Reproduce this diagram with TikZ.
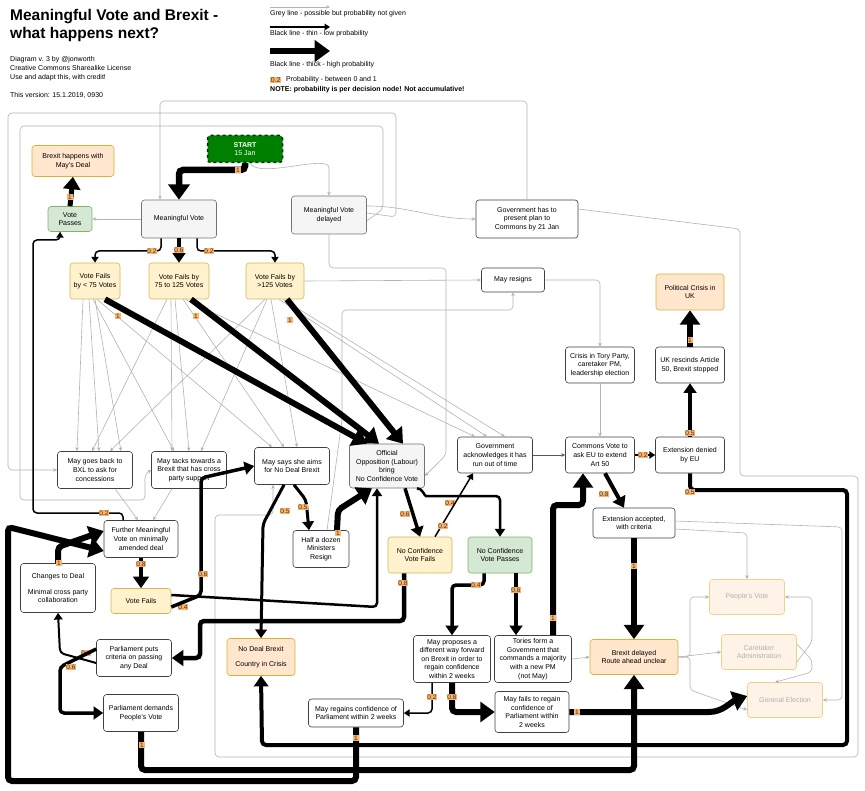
\documentclass[tikz,border=0pt]{standalone}
\usepackage{fontspec}
\setmainfont{Liberation Sans}
\usetikzlibrary{arrows.meta}
\definecolor{ofill}{HTML}{FFE6CC}\definecolor{odraw}{HTML}{D79B00}
\definecolor{yfill}{HTML}{FFF2CC}\definecolor{ydraw}{HTML}{D6B656}
\definecolor{gfill}{HTML}{D5E8D4}\definecolor{gdraw}{HTML}{82B366}
\definecolor{sfill}{HTML}{F5F5F5}\definecolor{pfill}{HTML}{FFB366}
\begin{document}
\begin{tikzpicture}[x=1pt,y=-1pt,
  box/.style={draw=black!75, rounded corners=3, fill=white, align=center, font=\fontsize{7}{8.6}\selectfont, inner sep=1pt, line width=0.6},
  org/.style={box, fill=ofill, draw=odraw!80},
  yel/.style={box, fill=yfill, draw=ydraw},
  grn/.style={box, fill=gfill, draw=gdraw},
  gry/.style={box, fill=sfill, draw=black!55},
  fad/.style={box, fill=ofill!50, draw=odraw!45, text=black!30},
  arr/.style={draw=black, line width=#1, rounded corners=4, -{Triangle[length=3pt 1.9, width=3pt 2.8]}},
  gr/.style={draw=black!30, line width=0.6, rounded corners=4, -{Stealth[length=4pt,width=3.5pt]}},
  prob/.style={fill=pfill, font=\fontsize{6.5}{7}\selectfont, inner sep=0.7pt, text=black!80},
  txt/.style={font=\fontsize{7}{8.6}\selectfont, anchor=west, inner sep=0}]
\useasboundingbox (0,0) rectangle (865,791);
% header
\node[anchor=north west, align=left, font=\bfseries\fontsize{15.5}{18}\selectfont, inner sep=0] (title) at (10,9) {Meaningful Vote and Brexit -\\what happens next?};
\node[anchor=north west, align=left, font=\fontsize{7}{9.2}\selectfont, inner sep=0] (credit) at (10,56) {Diagram v. 3 by @jonworth\\Creative Commons Sharealike License\\Use and adapt this, with credit!};
\node[txt] (version) at (10,95) {This version: 15.1.2019, 0930};
% legend
\coordinate (l1a) at (270,7); \coordinate (l1b) at (330,7);
\coordinate (l2a) at (270,27); \coordinate (l2b) at (330,27);
\coordinate (l3a) at (270,51); \coordinate (l3b) at (330,51);
\draw[gr] (l1a) -- (l1b);
\draw[arr=1.3] (l2a) -- (l2b);
\draw[arr=6.5] (l3a) -- (l3b);
\node[txt] (lt1) at (270,14) {Grey line - possible but probability not given};
\node[txt] (lt2) at (270,34) {Black line - thin - low probability};
\node[txt] (lt3) at (270,65) {Black line - thick - high probability};
\node[prob, anchor=west, font=\fontsize{7}{7}\selectfont] (lp) at (270,80) {0.2};
\node[txt] (lt4) at (286,80) {Probability - between 0 and 1};
\node[txt, font=\bfseries\fontsize{7}{8}\selectfont] (lt5) at (270,90) {NOTE: probability is per decision node! Not accumulative!};

% nodes
\node[box, fill=green!50!black, draw=green!20!black, dashed, line width=1.5, text=white, minimum width=75, minimum height=27] (start) at (245,149) {\textbf{START}\\15 Jan};
\node[org, minimum width=82, minimum height=31] (bhd) at (73,161) {Brexit happens with\\May's Deal};
\node[grn, minimum width=44, minimum height=25] (vp) at (70,219) {Vote\\Passes};
\node[gry, minimum width=75, minimum height=38] (mv) at (179,219) {Meaningful Vote};
\node[gry, minimum width=75, minimum height=38] (mvd) at (329,215) {Meaningful Vote\\delayed};
\node[box, minimum width=102, minimum height=38] (gov) at (527,219) {Government has to\\present plan to\\Commons by 21 Jan};
\node[yel, minimum width=50, minimum height=36] (f75) at (95,281) {Vote Fails\\by < 75 Votes};
\node[yel, minimum width=60, minimum height=36] (f125) at (179,281) {Vote Fails by\\75 to 125 Votes};
\node[yel, minimum width=58, minimum height=36] (fg) at (275,281) {Vote Fails by\\>125 Votes};
\node[box, minimum width=63, minimum height=24] (mr) at (513,280) {May resigns};
\node[org, minimum width=68, minimum height=36] (pc) at (690,292) {Political Crisis in\\UK};
\node[box, minimum width=69, minimum height=36] (ct) at (600,365) {Crisis in Tory Party,\\caretaker PM,\\leadership election};
\node[box, minimum width=69, minimum height=36] (uk) at (690,365) {UK rescinds Article\\50, Brexit stopped};
\node[box, minimum width=75, minimum height=37] (bxl) at (95,470) {May goes back to\\BXL to ask for\\concessions};
\node[box, minimum width=75, minimum height=37] (tack) at (189,470) {May tacks towards a\\Brexit that has cross\\party support};
\node[box, minimum width=75, minimum height=37] (nd) at (292,466) {May says she aims\\for No Deal Brexit};
\node[gry, minimum width=75, minimum height=44] (oo) at (387,466) {Official\\Opposition (Labour)\\bring\\No Confidence Vote};
\node[box, minimum width=75, minimum height=36] (ga) at (495,455) {Government\\acknowledges it has\\run out of time};
\node[box, minimum width=69, minimum height=36] (cv) at (600,455) {Commons Vote to\\ask EU to extend\\Art 50};
\node[box, minimum width=69, minimum height=36] (ed) at (690,455) {Extension denied\\by EU};
\node[box, minimum width=74, minimum height=37] (fmv) at (141,539) {Further Meaningful\\Vote on minimally\\amended deal};
\node[box, minimum width=56, minimum height=37] (hd) at (321,549) {Half a dozen\\Ministers\\Resign};
\node[yel, minimum width=64, minimum height=36] (ncf) at (420,555) {No Confidence\\Vote Fails};
\node[grn, minimum width=64, minimum height=36] (ncp) at (500,555) {No Confidence\\Vote Passes};
\node[box, minimum width=82, minimum height=30] (ea) at (634,523) {Extension accepted,\\with criteria};
\node[box, minimum width=75, minimum height=49] (cd) at (58,588) {Changes to Deal\\[7pt]Minimal cross party\\collaboration};
\node[yel, minimum width=60, minimum height=25] (vf) at (141,601) {Vote Fails};
\node[box, minimum width=75, minimum height=37] (pcr) at (134,658) {Parliament puts\\criteria on passing\\any Deal};
\node[org, minimum width=68, minimum height=37] (ndb) at (261,657) {No Deal Brexit\\[7pt]Country in Crisis};
\node[box, minimum width=77, minimum height=47] (mp) at (452,659) {May proposes a\\different way forward\\on Brexit in order to\\regain confidence\\within 2 weeks};
\node[box, minimum width=77, minimum height=47] (tf) at (533,659) {Tories form a\\Government that\\commands a majority\\with a new PM\\(not May)};
\node[org, minimum width=88, minimum height=35] (bd) at (634,657) {Brexit delayed\\Route ahead unclear};
\node[fad, minimum width=75, minimum height=35] (pv) at (747,597) {People's Vote};
\node[fad, minimum width=75, minimum height=35] (ca) at (759,652) {Caretaker\\Administration};
\node[fad, minimum width=75, minimum height=35] (ge) at (785,700) {General Election};
\node[box, minimum width=75, minimum height=37] (pd) at (141,713) {Parliament demands\\People's Vote};
\node[box, minimum width=95, minimum height=28] (mrc) at (356,713) {May regains confidence of\\Parliament within 2 weeks};
\node[box, minimum width=74, minimum height=41] (mf) at (532,712) {May fails to regain\\confidence of\\Parliament within\\2 weeks};

% grey connectors
\draw[gr] ([xshift=5]start.south) to[out=-60,in=90,looseness=0.6] (329,172) -- (mvd.north);
\draw[gr] (mv.west) -- (vp.east);
\draw[gr] ([yshift=-6]mvd.east) -- (383,209) -- (383,126) -- (20,126) -- (20,500) -- (145,500) -- (145,474) -- (tack.west);
\draw[gr] ([yshift=2]mvd.east) -- (396,217) -- (396,113) -- (8,113) -- (8,470) -- (bxl.west);
\draw[gr] ([yshift=9]mvd.east) to[out=0,in=180] (gov.west);
\draw[gr] (mvd.south) -- (329,268) -- (446,268) -- (446,455) -- ([yshift=-10]oo.east);
\draw[gr] (gov.north) -- (527,101) -- (160,101) -- ([xshift=-19]mv.north);
\draw[gr] ([yshift=10]gov.east) -- (740,229) -- (740,476) -- (858,476) -- (858,757) -- (215,757) -- (215,515) -- (273,515) -- ([xshift=-19]nd.south);
\draw[gr] (fg.east) -- (mr.west);
\draw[gr] ([xshift=6]hd.north) -- (342,420) -- (342,310) -- (513,310) -- (mr.south);
\draw[gr] (mr.east) -- (600,280) -- (ct.north);
\draw[gr] (ct.south) -- (cv.north);
\draw[draw=black!65, line width=0.7, -{Stealth[length=4pt,width=3.5pt]}] (ga.east) -- (cv.west);
\foreach \s/\d in {-12/-18,-6/4,0/26} {
  \draw[gr] ([xshift=\s]f75.south) -- ([xshift=\d]bxl.north);}
\draw[gr] ([xshift=-2]f75.south) -- ([xshift=-15]tack.north);
\draw[gr] ([xshift=2]f75.south) -- ([xshift=-20]nd.north);
\draw[gr] ([xshift=-8]f125.south) -- ([xshift=-17]tack.north);
\draw[gr] ([xshift=-12]f125.south) -- ([xshift=-3]bxl.north);
\draw[gr] ([xshift=-4]f125.south) -- ([xshift=0]tack.north);
\draw[gr] ([xshift=4]f125.south) -- ([xshift=-8]nd.north);
\draw[gr] ([xshift=6]f125.south) -- ([xshift=-20]ga.north);
\draw[gr] ([xshift=-10]fg.south) -- ([xshift=15]bxl.north);
\draw[gr] ([xshift=-8]fg.south) -- ([xshift=12]tack.north);
\draw[gr] ([xshift=-4]fg.south) -- ([xshift=5]nd.north);
\draw[gr] ([xshift=4]fg.south) -- ([xshift=-8]ga.north);
\draw[gr] ([xshift=8]fg.south) -- ([xshift=10]ga.north);
\draw[gr] ([xshift=20]bxl.south) -- ([xshift=-3]fmv.north);
\draw[gr] ([xshift=-17]tack.south) -- ([xshift=12]fmv.north);
\draw[gr] (tf.east) -- (bd.west);
\draw[gr] ([yshift=-6]ea.east) -- (747,533) -- (pv.north);
\draw[gr] ([yshift=2]ea.east) -- (842,527) -- (842,700) -- (ge.east);
\draw[gr] (bd.east) -- (690,657) -- (690,597) -- (pv.west);
\draw[gr] (bd.east) -- (ca.west);
\draw[gr] (bd.east) -- (690,657) -- (690,690) -- ([yshift=-10]ge.west);
\draw[gr] ([yshift=-10]ca.east) -- (812,642) -- (812,597) -- (pv.east);
\draw[gr] ([yshift=8]ca.east) -- (812,660) -- (812,672) -- ([xshift=-10]ge.north);

% black connectors
\draw[arr=6.5] (start.south) -- (245,170) -- (179,170) -- (mv.north);
\node[prob] (p1) at (238,170) {1};
\draw[arr=5] (vp.north) -- (bhd.south);
\node[prob] (p2) at (70,197) {1};
\draw[arr=1.5] ([xshift=-18]mv.south) -- (161,251) -- (95,251) -- (f75.north);
\node[prob] (p3) at (152,251) {0.2};
\draw[arr=3.5] (mv.south) -- (f125.north);
\node[prob] (p4) at (179,250) {0.6};
\draw[arr=1.5] ([xshift=18]mv.south) -- (197,251) -- (275,251) -- (fg.north);
\node[prob] (p5) at (209,251) {0.2};
\draw[arr=6] ([xshift=10]f75.south) -- ([xshift=-20]oo.north);
\node[prob] (p6) at (118,316) {1};
\draw[arr=6] ([xshift=12]f125.south) -- ([xshift=-8]oo.north);
\node[prob] (p7) at (196,316) {1};
\draw[arr=6] ([xshift=12]fg.south) -- ([xshift=16]oo.north);
\node[prob] (p8) at (290,320) {1};
\draw[arr=3.5] ([xshift=18]oo.south) -- (ncf.north);
\node[prob] (p9) at (405,514) {0.6};
\draw[arr=2.5] ([xshift=30]oo.south) to[out=0,in=180] (430,496) -- (500,496) -- (ncp.north);
\node[prob] (p10) at (450,503) {0.4};
\draw[arr=1.5] ([xshift=15]ncf.north) -- ([xshift=-22]ga.south);
\node[prob] (p11) at (443,526) {0.2};
\draw[arr=4.5] ([xshift=-16]ncf.south) -- (404,621) -- (200,621) -- (200,658) -- (pcr.east);
\node[prob] (p12) at (403,583) {0.8};
\draw[arr=2.5] ([yshift=6]vf.east) -- (377,607) -- ([xshift=-10]oo.south);
\node[prob] (p13) at (183,607) {0.4};
\draw[arr=3.5] ([yshift=-6]vf.east) -- (201,595) -- (201,478) -- (nd.west);
\node[prob] (p14) at (203,574) {0.6};
\draw[arr=3] ([xshift=-8]nd.south) -- (263,524) -- (ndb.north);
\node[prob] (p15) at (285,511) {0.5};
\draw[arr=3] ([xshift=2]nd.south) -- (306,500) -- ([xshift=-12]hd.north);
\node[prob] (p16) at (303,507) {0.5};
\draw[arr=6] ([xshift=16]hd.north) -- (338,510) -- ([xshift=-15]oo.south);
\node[prob] (p17) at (338,533) {1};
\draw[arr=4.5] (fmv.south) -- (vf.north);
\node[prob] (p18) at (141,564) {0.8};
\draw[arr=1.5] ([xshift=-18]fmv.north) -- (123,513) -- (33,513) -- (33,240) -- (60,240) -- ([xshift=-10]vp.south);
\node[prob] (p19) at (104,513) {0.2};
\draw[arr=6] (cd.north) -- (58,547) -- ([yshift=8]fmv.west);
\node[prob] (p20) at (59,563) {1};
\draw[arr=2] ([yshift=-5]pcr.west) -- (60,653) -- (cd.south);
\node[prob] (p21) at (86,653) {0.4};
\draw[arr=3.5] ([yshift=9]pcr.west) -- (60,667) -- (60,713) -- (pd.west);
\node[prob] (p22) at (71,667) {0.6};
\draw[arr=6] (pd.south) -- (141,770) -- (634,770) -- (bd.south);
\node[prob] (p23) at (142,745) {1};
\draw[arr=6] (mrc.south) -- (356,781) -- (8,781) -- (8,527) -- ([yshift=-12]fmv.west);
\node[prob] (p24) at (356,738) {1};
\draw[arr=3.5] ([xshift=-16]ncp.south) -- (484,585) -- (452,585) -- (mp.north);
\node[prob] (p25) at (476,585) {0.4};
\draw[arr=3.5] ([xshift=16]ncp.south) -- ([xshift=-17]tf.north);
\node[prob] (p26) at (516,590) {0.6};
\draw[arr=6] ([xshift=20]tf.north) -- (553,505) -- (583,505) -- ([xshift=-17]cv.south);
\node[prob] (p27) at (553,618) {1};
\draw[arr=1.5] ([xshift=-20]mp.south) -- (432,713) -- (mrc.east);
\node[prob] (p28) at (432,697) {0.2};
\draw[arr=6] (mp.south) -- (452,712) -- (mf.west);
\node[prob] (p29) at (452,697) {0.8};
\draw[arr=6] (mf.east) -- (705,712) to[out=0,in=200] ([yshift=4]ge.west);
\node[prob] (p30) at (577,712) {1};
\draw[arr=4] (ed.south) -- (690,490) -- (847,490) -- (847,745) -- (262,745) -- (ndb.south);
\node[prob] (p31) at (690,492) {0.5};
\draw[arr=4] ([xshift=5]cv.south) -- ([xshift=-10]ea.north);
\node[prob] (p32) at (604,494) {0.8};
\draw[arr=1.5] (cv.east) -- (ed.west);
\node[prob] (p33) at (643,455) {0.2};
\draw[arr=3.5] (ed.north) -- (uk.south);
\node[prob] (p34) at (690,433) {0.5};
\draw[arr=6] (uk.north) -- (pc.south);
\node[prob] (p35) at (690,340) {1};
\draw[arr=6] (ea.south) -- (bd.north);
\node[prob] (p36) at (634,566) {1};
\end{tikzpicture}
\end{document}
